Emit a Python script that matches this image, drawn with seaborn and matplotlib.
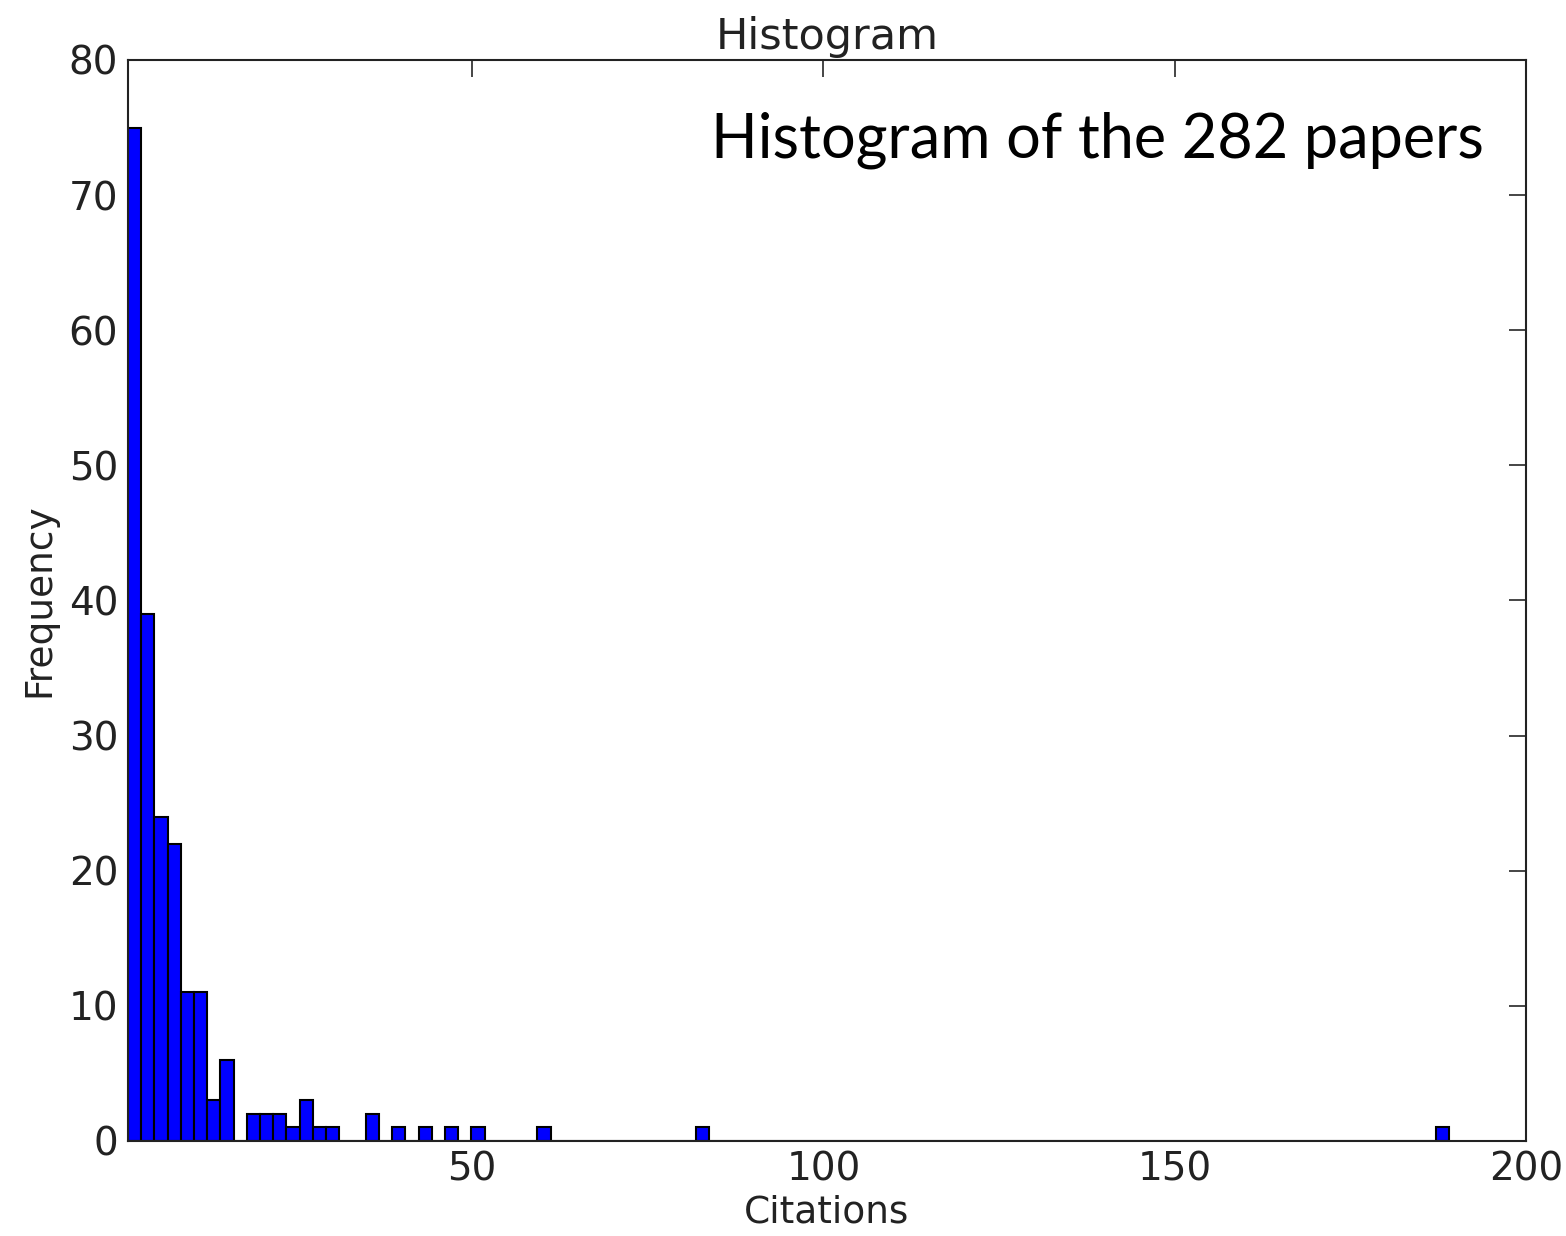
import numpy as np
import pandas as pd
import matplotlib
matplotlib.use("Agg")
import matplotlib.pyplot as plt
import seaborn as sns

# histogram: 100 bins between the smallest and largest citation count
min_citations = 1
max_citations = 189
n_bins = 100

# index of each non-empty bin and its frequency
bin_index = [0, 1, 2, 3, 4, 5, 6, 7, 9, 10, 11, 12, 13, 14, 15, 18, 20, 22, 24, 26, 31, 43, 99]
frequency = [75, 39, 24, 22, 11, 11, 3, 6, 2, 2, 2, 1, 3, 1, 1, 2, 1, 1, 1, 1, 1, 1, 1]

edges = np.linspace(min_citations, max_citations, n_bins + 1)
centers = (edges[:-1] + edges[1:]) / 2
df = pd.DataFrame({"Citations": centers[bin_index], "count": frequency})

sns.set_style("white")
plt.rcParams["font.family"] = ["DejaVu Sans"]

fig = plt.figure(figsize=(15.66, 12.36), dpi=100)
ax = fig.add_axes([0.0817, 0.0769, 0.8928, 0.8746])

sns.histplot(data=df, x="Citations", weights="count", bins=edges.tolist(),
             color="#0000ff", alpha=1, edgecolor="black", linewidth=1.5, ax=ax)

ax.set_xlim(min_citations, 200)
ax.set_ylim(0, 80)
ax.set_xticks([50, 100, 150, 200])
ax.set_yticks(range(0, 81, 10))
ax.tick_params(direction="in", length=12, width=1.2, top=True, right=True,
               labelsize=28, labelcolor="#222222", pad=7)
for s in ax.spines.values():
    s.set_visible(True)
    s.set_color("#222222")
    s.set_linewidth(1.5)

ax.set_title("Histogram", fontsize=31, pad=8, color="#222222")
ax.set_xlabel("Citations", fontsize=27, labelpad=4, color="#222222")
ax.set_ylabel("Frequency", fontsize=27, labelpad=8, color="#222222")

ax.text(0.97, 0.926, "Histogram of the 282 papers", transform=ax.transAxes,
        ha="right", va="center", fontsize=44, color="black",
        family=["Lato", "DejaVu Sans"])

fig.savefig("out.png", dpi=100)
